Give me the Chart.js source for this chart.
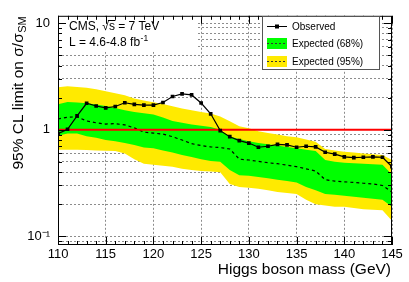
<!DOCTYPE html>
<html>
<head>
<meta charset="utf-8">
<script src="https://cdn.jsdelivr.net/npm/chart.js@4.4.1/dist/chart.umd.min.js"></script>
<style>
  html, body { margin: 0; padding: 0; background: #fff; }
  canvas { display: block; }
</style>
</head>
<body>
<canvas id="c" width="409" height="282"></canvas>
<script>
// Higgs mass points (GeV)
const masses = [110, 111, 112, 113, 114, 115, 116, 117, 118, 119, 120, 121, 122, 123, 124, 125, 126, 127,
  128, 129, 130, 131, 132, 133, 134, 135, 136, 137, 138, 139, 140, 141, 142, 143, 144, 145];

// 95% CL limits on sigma/sigma_SM
const observed = [0.92, 1.01, 1.35, 1.77, 1.67, 1.60, 1.65, 1.79, 1.73, 1.70, 1.70, 1.80, 2.05, 2.17, 2.12, 1.78, 1.41,
  0.98, 0.86, 0.79, 0.75, 0.685, 0.70, 0.73, 0.72, 0.685, 0.70, 0.69, 0.615, 0.59, 0.556, 0.548, 0.552, 0.556, 0.552, 0.45];
const expected = [1.26, 1.31, 1.32, 1.21, 1.16, 1.13, 1.14, 1.11, 1.04, 0.95, 0.93, 0.91, 0.86, 0.80, 0.74, 0.71, 0.69,
  0.68, 0.66, 0.53, 0.52, 0.505, 0.49, 0.48, 0.465, 0.45, 0.43, 0.41, 0.34, 0.33, 0.325, 0.32, 0.315, 0.31, 0.30, 0.26];
const exp68Hi = [1.73, 1.82, 1.80, 1.77, 1.72, 1.67, 1.60, 1.52, 1.47, 1.43, 1.39, 1.30, 1.21, 1.16, 1.12, 1.09, 1.06,
  1.00, 0.86, 0.82, 0.78, 0.75, 0.73, 0.71, 0.69, 0.67, 0.65, 0.63, 0.52, 0.50, 0.49, 0.485, 0.48, 0.475, 0.47, 0.38];
const exp68Lo = [0.88, 0.92, 0.92, 0.87, 0.84, 0.80, 0.78, 0.75, 0.72, 0.68, 0.67, 0.64, 0.61, 0.58, 0.555, 0.53, 0.51,
  0.50, 0.42, 0.375, 0.37, 0.36, 0.35, 0.34, 0.33, 0.32, 0.29, 0.27, 0.25, 0.245, 0.24, 0.235, 0.23, 0.225, 0.22, 0.19];
const exp95Hi = [2.50, 2.56, 2.52, 2.47, 2.40, 2.30, 2.20, 2.10, 1.96, 1.88, 1.81, 1.74, 1.66, 1.58, 1.52, 1.47, 1.42,
  1.33, 1.20, 1.08, 1.03, 0.97, 0.93, 0.90, 0.87, 0.85, 0.81, 0.77, 0.66, 0.64, 0.62, 0.61, 0.60, 0.59, 0.58, 0.52];
const exp95Lo = [0.65, 0.65, 0.65, 0.645, 0.64, 0.635, 0.63, 0.60, 0.53, 0.48, 0.47, 0.46, 0.45, 0.43, 0.42, 0.41, 0.405,
  0.40, 0.31, 0.29, 0.285, 0.28, 0.27, 0.26, 0.255, 0.25, 0.22, 0.20, 0.195, 0.19, 0.19, 0.185, 0.18, 0.178, 0.176, 0.14];
const smRef = [1, 1]; // sigma/sigma_SM = 1 line, at first and last mass

// axis ticks
const yTicks = [0.09, 0.1, 0.2, 0.3, 0.4, 0.5, 0.6, 0.7, 0.8, 0.9, 1, 2, 3, 4, 5, 6, 7, 8, 9, 10];
const yLabelValues = [0.1, 1, 10];
const yLabelTexts = ['10\u207B\u00B9', '1', '10'];

const FONT = "'Liberation Sans', Arial, Helvetica, sans-serif";
const GREEN = '#00ff00';
const YELLOW = '#ffea00';

const pts = (arr) => arr.map((v, i) => ({ x: masses[i], y: v }));

// frame, inward ticks, titles, CMS label and legend (ROOT style)
const decor = {
  id: 'decor',
  afterDraw(chart) {
    const { ctx, chartArea: a, scales: { x, y } } = chart;
    ctx.save();

    // white box behind the CMS label
    ctx.fillStyle = '#fff';
    ctx.fillRect(a.left + 1, a.top + 1, 137, 35);

    ctx.strokeStyle = '#000';
    ctx.lineWidth = 1;
    ctx.beginPath();
    masses.forEach(m => {
      const px = Math.round(x.getPixelForValue(m)) + 0.5;
      const len = m % 5 === 0 ? 8 : 4;
      ctx.moveTo(px, a.bottom); ctx.lineTo(px, a.bottom - len);
      ctx.moveTo(px, a.top); ctx.lineTo(px, a.top + len);
    });
    yTicks.forEach(v => {
      const py = Math.round(y.getPixelForValue(v)) + 0.5;
      const len = yLabelValues.includes(v) ? 8 : 4;
      ctx.moveTo(a.left, py); ctx.lineTo(a.left + len, py);
      ctx.moveTo(a.right, py); ctx.lineTo(a.right - len, py);
    });
    ctx.stroke();
    ctx.strokeRect(a.left + 0.5, a.top + 0.5, a.right - a.left - 1, a.bottom - a.top - 1);

    ctx.fillStyle = '#000';
    ctx.textBaseline = 'alphabetic';

    // x title
    ctx.font = '15.5px ' + FONT;
    ctx.textAlign = 'right';
    ctx.fillText('Higgs boson mass (GeV)', a.right - 1, 274);

    // y title with subscript
    ctx.save();
    ctx.translate(22.5, a.top);
    ctx.rotate(-Math.PI / 2);
    ctx.textAlign = 'left';
    const main = '95% CL limit on \u03C3/\u03C3';
    ctx.font = '15.5px ' + FONT;
    const wMain = ctx.measureText(main).width;
    ctx.font = '11px ' + FONT;
    const wSub = ctx.measureText('SM').width;
    const x0 = -(wMain + wSub + 1);
    ctx.font = '15.5px ' + FONT;
    ctx.fillText(main, x0, 0);
    ctx.font = '11px ' + FONT;
    ctx.fillText('SM', x0 + wMain + 0.5, 3.5);
    ctx.restore();

    // CMS label
    ctx.textAlign = 'left';
    ctx.font = '12px ' + FONT;
    let cx = 69;
    const t1 = 'CMS, \u221A';
    ctx.fillText(t1, cx, 30);
    cx += ctx.measureText(t1).width;
    const ws = ctx.measureText('s').width;
    ctx.fillText('s', cx, 30);
    ctx.beginPath();
    ctx.moveTo(cx - 1, 20.5); ctx.lineTo(cx + ws + 0.5, 20.5);
    ctx.stroke();
    cx += ws;
    ctx.fillText(' = 7 TeV', cx, 30);
    const t2 = 'L = 4.6-4.8 fb';
    ctx.fillText(t2, 69, 45.5);
    ctx.font = '8.5px ' + FONT;
    ctx.fillText('-1', 69 + (function () { ctx.font = '12px ' + FONT; const w = ctx.measureText(t2).width; ctx.font = '8.5px ' + FONT; return w; })() + 0.5, 40.5);

    // legend
    const lx = 262, ly = 16, lw = 118, lh = 54;
    ctx.fillStyle = '#fff';
    ctx.fillRect(lx, ly, lw, lh);
    ctx.strokeStyle = '#555';
    ctx.strokeRect(lx + 0.5, ly + 0.5, lw - 1, lh - 1);

    ctx.strokeStyle = '#000';
    ctx.beginPath();
    ctx.moveTo(267, 26.5); ctx.lineTo(287, 26.5);
    ctx.stroke();
    ctx.fillStyle = '#000';
    ctx.fillRect(275, 24.5, 4, 4);

    ctx.fillStyle = GREEN;
    ctx.fillRect(267, 38, 20, 11);
    ctx.fillStyle = YELLOW;
    ctx.fillRect(267, 56, 20, 11);
    ctx.setLineDash([2, 2]);
    ctx.strokeStyle = '#333';
    ctx.beginPath();
    ctx.moveTo(267, 43.5); ctx.lineTo(287, 43.5);
    ctx.moveTo(267, 61.5); ctx.lineTo(287, 61.5);
    ctx.stroke();
    ctx.setLineDash([]);

    ctx.fillStyle = '#000';
    ctx.font = '10px ' + FONT;
    ctx.fillText('Observed', 292, 30);
    ctx.fillText('Expected (68%)', 292, 47);
    ctx.fillText('Expected (95%)', 292, 64.5);

    ctx.restore();
  }
};

new Chart(document.getElementById('c'), {
  type: 'line',
  data: {
    datasets: [
      {
        label: 'Observed',
        data: pts(observed),
        borderColor: '#000',
        backgroundColor: '#000',
        borderWidth: 1.2,
        pointStyle: 'rect',
        pointRadius: 2.6,
        pointBorderWidth: 0,
        fill: false
      },
      {
        label: 'SM',
        data: [{ x: masses[0], y: smRef[0] }, { x: masses[masses.length - 1], y: smRef[1] }],
        borderColor: '#ff0000',
        borderWidth: 2,
        pointRadius: 0,
        fill: false
      },
      {
        label: 'Expected',
        data: pts(expected),
        borderColor: '#000',
        borderWidth: 1.2,
        borderDash: [3, 3],
        pointRadius: 0,
        fill: false
      },
      {
        label: 'Expected (68%)',
        data: pts(exp68Hi),
        borderWidth: 0,
        pointRadius: 0,
        backgroundColor: GREEN,
        fill: '+1'
      },
      {
        label: '68% low',
        data: pts(exp68Lo),
        borderWidth: 0,
        pointRadius: 0,
        fill: false
      },
      {
        label: 'Expected (95%)',
        data: pts(exp95Hi),
        borderWidth: 0,
        pointRadius: 0,
        backgroundColor: YELLOW,
        fill: '+1'
      },
      {
        label: '95% low',
        data: pts(exp95Lo),
        borderWidth: 0,
        pointRadius: 0,
        fill: false
      }
    ]
  },
  options: {
    responsive: false,
    devicePixelRatio: 1,
    animation: false,
    layout: { padding: { top: 15, right: 17, left: 0, bottom: 0 } },
    elements: { line: { tension: 0 } },
    plugins: {
      legend: { display: false },
      tooltip: { enabled: false }
    },
    scales: {
      x: {
        type: 'linear',
        min: 110,
        max: 145,
        z: 1,
        afterFit(s) { s.height = 37; },
        grid: { color: 'rgba(0,0,0,0.45)', drawTicks: false, lineWidth: 1 },
        border: { display: false, dash: [2, 2] },
        ticks: {
          stepSize: 5,
          padding: 2,
          color: '#000',
          font: { family: FONT, size: 13 },
          callback: (v) => String(v)
        }
      },
      y: {
        type: 'logarithmic',
        min: 0.083,
        max: 11.7,
        z: 1,
        afterFit(s) { s.width = 58; },
        afterBuildTicks(s) { s.ticks = yTicks.map(v => ({ value: v })); },
        grid: { color: 'rgba(0,0,0,0.45)', drawTicks: false, lineWidth: 1 },
        border: { display: false, dash: [2, 2] },
        ticks: {
          padding: 8,
          color: '#000',
          autoSkip: false,
          font: { family: FONT, size: 13 },
          callback: (v) => {
            const i = yLabelValues.findIndex(t => Math.abs(t - v) < 1e-9);
            return i >= 0 ? yLabelTexts[i] : '';
          }
        }
      }
    }
  },
  plugins: [decor]
});
</script>
</body>
</html>
